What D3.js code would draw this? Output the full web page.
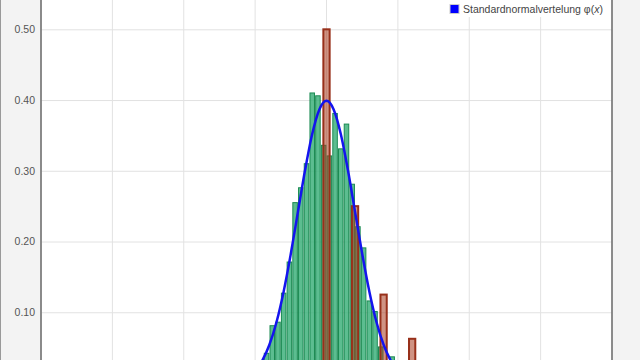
<!DOCTYPE html>
<html>
<head>
<meta charset="utf-8">
<script src="https://cdn.jsdelivr.net/npm/d3@7"></script>
<style>
  body { margin: 0; background: #fff; }
  text { font-family: "Liberation Sans", Arial, sans-serif; }
</style>
</head>
<body>
<div id="chart"></div>
<script>
(function(){
    var width = 640,
        height = 360;

    // green histogram: bin left edges and heights
    var binStart = [-2.6, -2.4, -2.2, -2.0, -1.8, -1.6, -1.4, -1.2, -1.0, -0.8, -0.6, -0.4, -0.2,
                    0.0, 0.2, 0.4, 0.6, 0.8, 1.0, 1.2, 1.4, 1.6, 1.8, 2.0, 2.2, 2.4]
    var binHeight = [0.008, 0.02, 0.042, 0.081, 0.086, 0.127, 0.171, 0.255, 0.276, 0.31, 0.41, 0.406, 0.336,
                     0.321, 0.381, 0.331, 0.366, 0.281, 0.221, 0.191, 0.116, 0.101, 0.051, 0.02, 0.037, 0.008]
    var binWidth = 0.2

    // red bars
    var redX = [0, 1, 2, 3, 4, 5]
    var redHeight = [0.5, 0.25, 0.125, 0.0625, 0.031, 0.016]

    // standard normal curve
    var curveX = [-4, -3.5, -3, -2.75, -2.5, -2.25, -2, -1.75, -1.5, -1.25, -1, -0.75, -0.5, -0.25, 0,
                  0.25, 0.5, 0.75, 1, 1.25, 1.5, 1.75, 2, 2.25, 2.5, 2.75, 3, 3.5, 4]
    var curveY = [0.0001, 0.0009, 0.0044, 0.0091, 0.0175, 0.0317, 0.054, 0.0863, 0.1295, 0.1826, 0.242, 0.3011, 0.3521, 0.3867, 0.3989,
                  0.3867, 0.3521, 0.3011, 0.242, 0.1826, 0.1295, 0.0863, 0.054, 0.0317, 0.0175, 0.0091, 0.0044, 0.0009, 0.0001]

    var xTicks = [-10, -7.5, -5, -2.5, 0, 2.5, 5, 7.5, 10]
    var yTicks = [0.1, 0.2, 0.3, 0.4, 0.5]

    var x = d3.scaleLinear().domain([-10, 10]).range([41, 612])
    var y = d3.scaleLinear().domain([0, 0.5]).range([383, 29.3])

    var svg = d3.select("#chart")
      .append("svg")
      .attr("width", width)
      .attr("height", height)

    // side panels
    svg.append("rect").attr("x", 0).attr("y", 0).attr("width", 41).attr("height", height).attr("fill", "#f3f3f3")
    svg.append("rect").attr("x", 612).attr("y", 0).attr("width", 28).attr("height", height).attr("fill", "#f3f3f3")
    svg.append("line").attr("x1", 0.5).attr("x2", 0.5).attr("y1", 0).attr("y2", height).attr("stroke", "#999")

    // grid
    svg.append("g").selectAll("line")
      .data(xTicks)
      .enter().append("line")
      .attr("x1", function(d){ return x(d) }).attr("x2", function(d){ return x(d) })
      .attr("y1", 0).attr("y2", height)
      .attr("stroke", "#e2e2e2")

    var yAxis = svg.append("g")
      .attr("transform", "translate(41,0)")
      .call(d3.axisLeft(y).tickValues(yTicks).tickSize(-(612 - 41)).tickPadding(6).tickFormat(d3.format(".2f")))
    yAxis.select(".domain").remove()
    yAxis.selectAll(".tick line").attr("stroke", "#e2e2e2")
    yAxis.selectAll(".tick text").attr("fill", "#555").attr("font-size", "10.5px")
      .attr("font-family", "Liberation Sans, Arial, sans-serif")

    // green histogram
    svg.append("g").selectAll("rect")
      .data(binStart)
      .enter().append("rect")
      .attr("x", function(d){ return x(d) + 0.6 })
      .attr("width", function(d){ return x(d + binWidth) - x(d) - 1.2 })
      .attr("y", function(d, i){ return y(binHeight[i]) })
      .attr("height", function(d, i){ return y(0) - y(binHeight[i]) })
      .attr("fill", "#40b27c")
      .attr("fill-opacity", 0.85)
      .attr("stroke", "#1a8a52")
      .attr("stroke-width", 1)

    // red bars
    svg.append("g").selectAll("rect")
      .data(redX)
      .enter().append("rect")
      .attr("x", function(d){ return x(d - 0.11) })
      .attr("width", function(d){ return x(d + 0.11) - x(d - 0.11) })
      .attr("y", function(d, i){ return y(redHeight[i]) })
      .attr("height", function(d, i){ return y(0) - y(redHeight[i]) })
      .attr("fill", "#a83a1e")
      .attr("fill-opacity", 0.55)
      .attr("stroke", "#98301a")
      .attr("stroke-width", 2)

    // normal curve
    var line = d3.line()
      .x(function(d){ return x(d) })
      .y(function(d, i){ return y(curveY[i]) })
      .curve(d3.curveMonotoneX)
    svg.append("path")
      .datum(curveX)
      .attr("d", line)
      .attr("fill", "none")
      .attr("stroke", "#1414ee")
      .attr("stroke-width", 2.5)

    // axis lines
    svg.append("line").attr("x1", 41).attr("x2", 41).attr("y1", 0).attr("y2", height)
      .attr("stroke", "#6a6a6a").attr("stroke-width", 1.5)
    svg.append("line").attr("x1", 612).attr("x2", 612).attr("y1", 0).attr("y2", height)
      .attr("stroke", "#6a6a6a").attr("stroke-width", 1.5)

    // legend
    var legend = svg.append("g")
    legend.append("rect").attr("x", 444).attr("y", 0).attr("width", 167).attr("height", 17).attr("fill", "#fff")
    legend.append("rect").attr("x", 450).attr("y", 4.5).attr("width", 9).attr("height", 9)
      .attr("fill", "#0000ff").attr("stroke", "#ccc").attr("stroke-width", 1)
    var lt = legend.append("text").attr("x", 463).attr("y", 13)
      .attr("font-size", "10.5px").attr("fill", "#444")
    lt.append("tspan").text("Standardnormalvertelung φ(")
    lt.append("tspan").attr("font-style", "italic").text("x")
    lt.append("tspan").text(")")
})();
</script>
</body>
</html>
